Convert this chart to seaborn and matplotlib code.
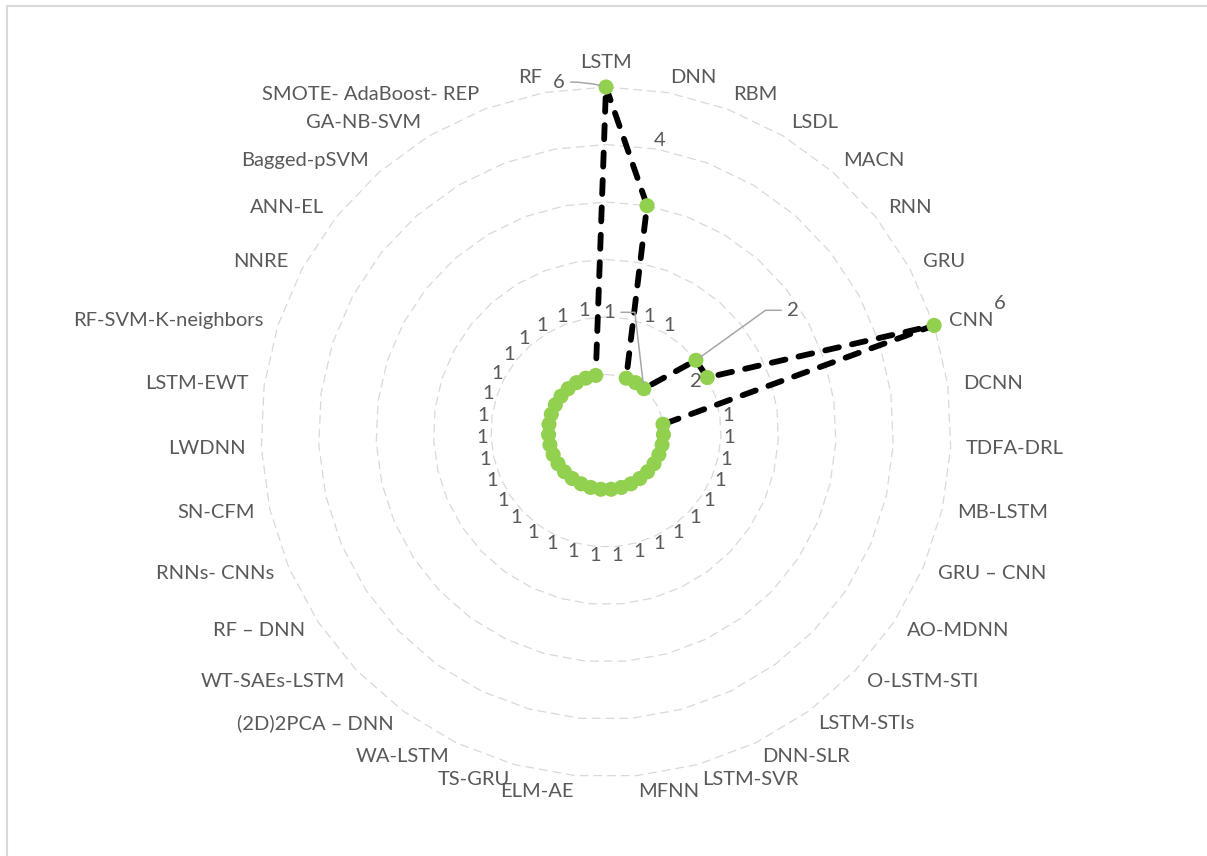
import numpy as np
import matplotlib
matplotlib.use('Agg')
import matplotlib.pyplot as plt
from matplotlib.lines import Line2D
import seaborn as sns

# models and how often each one shows up
categories = ['LSTM', 'DNN', 'RBM', 'LSDL', 'MACN', 'RNN', 'GRU', 'CNN', 'DCNN',
              'TDFA-DRL', 'MB-LSTM', 'GRU – CNN', 'AO-MDNN', 'O-LSTM-STI', 'LSTM-STIs',
              'DNN-SLR', 'LSTM-SVR', 'MFNN', 'ELM-AE', 'TS-GRU', 'WA-LSTM',
              '(2D)2PCA – DNN', 'WT-SAEs-LSTM', 'RF – DNN', 'RNNs- CNNs', 'SN-CFM',
              'LWDNN', 'LSTM-EWT', 'RF-SVM-K-neighbors', 'NNRE', 'ANN-EL',
              'Bagged-pSVM', 'GA-NB-SVM', 'SMOTE- AdaBoost- REP', 'RF']
counts = [6, 4, 1, 1, 1, 2, 2, 6, 1,
          1, 1, 1, 1, 1, 1,
          1, 1, 1, 1, 1, 1,
          1, 1, 1, 1, 1,
          1, 1, 1, 1, 1,
          1, 1, 1, 1]
ring_levels = [1, 2, 3, 4, 5, 6]

sns.set_theme(style='white')
plt.rcParams['font.family'] = ['Lato', 'DejaVu Sans']
txt_color = '#595959'
fsize = 14.5

W, H = 1207, 856
fig = plt.figure(figsize=(W / 100, H / 100), dpi=100)
cx, cy, R = 606, 432, 345
ax = fig.add_axes([(cx - R) / W, (H - cy - R) / H, 2 * R / W, 2 * R / H], projection='polar')
ax.set_theta_zero_location('N')
ax.set_theta_direction(-1)
ax.set_ylim(0, 6)
ax.grid(False)
ax.set_xticks([])
ax.set_yticks([])
ax.spines['polar'].set_visible(False)
ax.patch.set_alpha(0)

n = len(categories)
theta = np.arange(n) * 2 * np.pi / n
theta_c = np.append(theta, 2 * np.pi)

# polygon gridlines
for lvl in ring_levels:
    ax.plot(theta_c, [lvl] * (n + 1), color='#D9D9D9', lw=0.9,
            linestyle=(0, (7, 4)), zorder=1, clip_on=False)

# series line
vals_c = counts + counts[:1]
sns.lineplot(x=theta_c, y=vals_c, sort=False, estimator=None, ax=ax,
             color='black', lw=4.2, zorder=2)
line = ax.lines[-1]
line.set_dashes([2.4, 2.3])
line.set_dash_capstyle('round')
line.set_clip_on(False)

# markers
sns.scatterplot(x=theta, y=counts, ax=ax, color='#92D050', s=118,
                edgecolor='none', zorder=3, clip_on=False)
if ax.legend_ is not None:
    ax.legend_.remove()

# category labels
lab_r = 6.27
for t, name in zip(theta, categories):
    s = np.sin(t)
    if s > 0.01:
        ha, va = 'left', 'center'
    elif s < -0.01:
        ha, va = 'right', 'center'
    else:
        ha, va = 'center', ('bottom' if np.cos(t) > 0 else 'top')
    ax.text(t, lab_r, name, ha=ha, va=va, fontsize=fsize, color=txt_color)

# data labels (offsets in points, optional leader line style)
special = {
    0: ((-34, 3), 'arc3,rad=-0.1'),
    1: ((9, 47), None),
    4: ((-25, 55), 'angle,angleA=0,angleB=96.7,rad=0'),
    5: ((70, 36), 'angle,angleA=0,angleB=35.7,rad=0'),
    6: ((-8, -3), None),
    7: ((47, 16), None),
}
for i, (t, v) in enumerate(zip(theta, counts)):
    if i in special:
        off, conn = special[i]
        kw = {}
        if conn is not None:
            kw['arrowprops'] = dict(arrowstyle='-', color='#A6A6A6', lw=1.1,
                                    connectionstyle=conn, shrinkA=2, shrinkB=4)
        ax.annotate(str(v), xy=(t, v), xytext=off, textcoords='offset points',
                    ha='center', va='center', fontsize=fsize, color=txt_color,
                    annotation_clip=False, **kw)
    else:
        ax.text(t, 2.15, str(v), ha='center', va='center', fontsize=fsize, color=txt_color)

# chart area border (left and top edges show)
fig.add_artist(Line2D([6.5 / W, 6.5 / W], [0, 1 - 5.5 / H], color='#D9D9D9', lw=1.5))
fig.add_artist(Line2D([6.5 / W, 1], [1 - 5.5 / H, 1 - 5.5 / H], color='#D9D9D9', lw=1.5))

fig.savefig('out.png', dpi=100, facecolor='white')
